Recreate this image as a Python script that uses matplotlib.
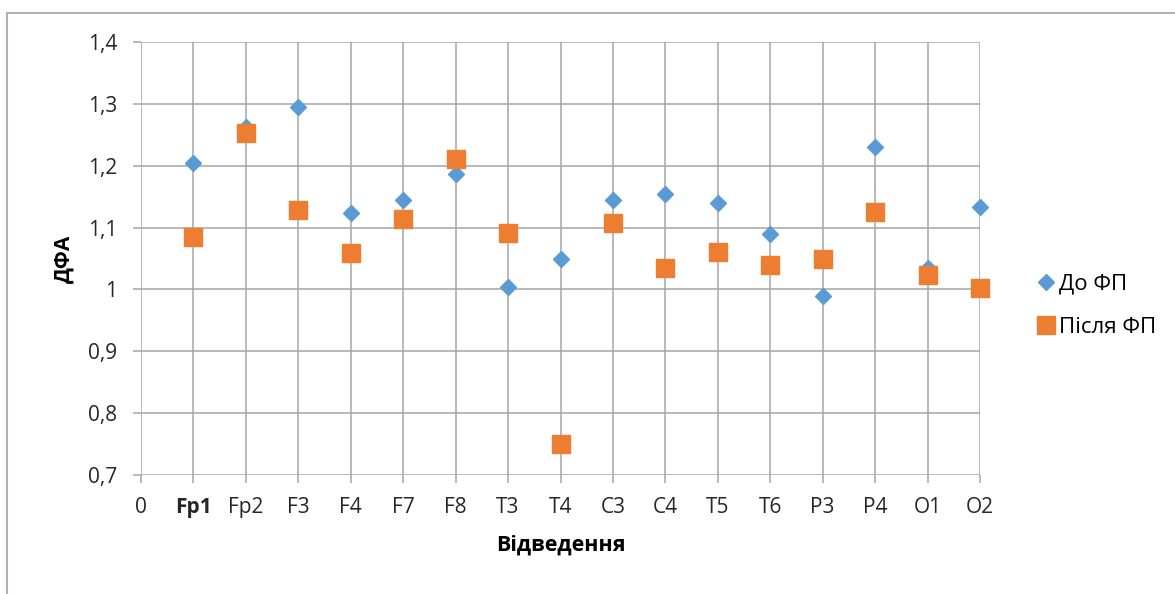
import matplotlib.pyplot as plt
from matplotlib.lines import Line2D
from matplotlib.ticker import FuncFormatter

plt.rcParams['font.family'] = ['Open Sans', 'DejaVu Sans']

leads = ["0", "Fp1", "Fp2", "F3", "F4", "F7", "F8", "T3", "T4",
         "C3", "C4", "T5", "T6", "P3", "P4", "O1", "O2"]
before = [1.205, 1.263, 1.295, 1.124, 1.144, 1.187, 1.004, 1.050,
          1.144, 1.154, 1.140, 1.089, 0.989, 1.231, 1.034, 1.133]
after = [1.085, 1.253, 1.129, 1.059, 1.114, 1.211, 1.092, 0.750,
         1.107, 1.035, 1.060, 1.040, 1.049, 1.125, 1.024, 1.003]

blue = "#5B9BD5"
orange = "#ED7D31"
grid_c = "#A6A6A6"

fig = plt.figure(figsize=(11.75, 5.94), dpi=100)
ax = fig.add_axes([141 / 1175, 1 - 475 / 594, (980 - 141) / 1175, (475 - 42) / 594])

x = list(range(1, len(leads)))
ax.plot(x, before, linestyle="none", marker="D", markersize=8.5,
        color=blue, label="До ФП", clip_on=False, zorder=3)
ax.plot(x, after, linestyle="none", marker="s", markersize=12.5,
        color=orange, label="Після ФП", clip_on=False, zorder=4)

ax.set_xlim(0, 16)
ax.set_ylim(0.7, 1.4)
ax.set_xticks(range(len(leads)))
ax.set_xticklabels(leads)
ax.set_yticks([0.7, 0.8, 0.9, 1.0, 1.1, 1.2, 1.3, 1.4])
ax.yaxis.set_major_formatter(FuncFormatter(
    lambda v, p: "1" if abs(v - 1) < 1e-9 else ("%.1f" % v).replace(".", ",")))

ax.grid(True, color=grid_c, linewidth=1.1)
ax.set_axisbelow(True)
for s in ax.spines.values():
    s.set_visible(False)
ax.tick_params(axis="both", length=6, width=1.1, color=grid_c)
ax.tick_params(axis="y", pad=11, labelsize=15)
ax.tick_params(axis="x", pad=10, labelsize=15)
ax.get_xticklabels()[1].set_fontweight("bold")
for lbl in ax.get_xticklabels() + ax.get_yticklabels():
    lbl.set_color("#262626")

ax.set_ylabel("ДФА", fontsize=15, fontweight="bold", labelpad=10)
ax.set_xlabel("Відведення", fontsize=15.5, fontweight="bold", labelpad=12)

fig.legend(loc="center left", bbox_to_anchor=(1030 / 1175, 1 - 306 / 594),
           frameon=False, fontsize=16, handlelength=0.6, handletextpad=0.3,
           labelspacing=1.0, borderaxespad=0)

# chart border (top and left edge)
fig.add_artist(Line2D([7 / 1175, 1], [1 - 13 / 594, 1 - 13 / 594],
                      transform=fig.transFigure, color="#B3B3B3", linewidth=1.5))
fig.add_artist(Line2D([7 / 1175, 7 / 1175], [0, 1 - 13 / 594],
                      transform=fig.transFigure, color="#B3B3B3", linewidth=1.5))

fig.savefig("out.png", dpi=100)
